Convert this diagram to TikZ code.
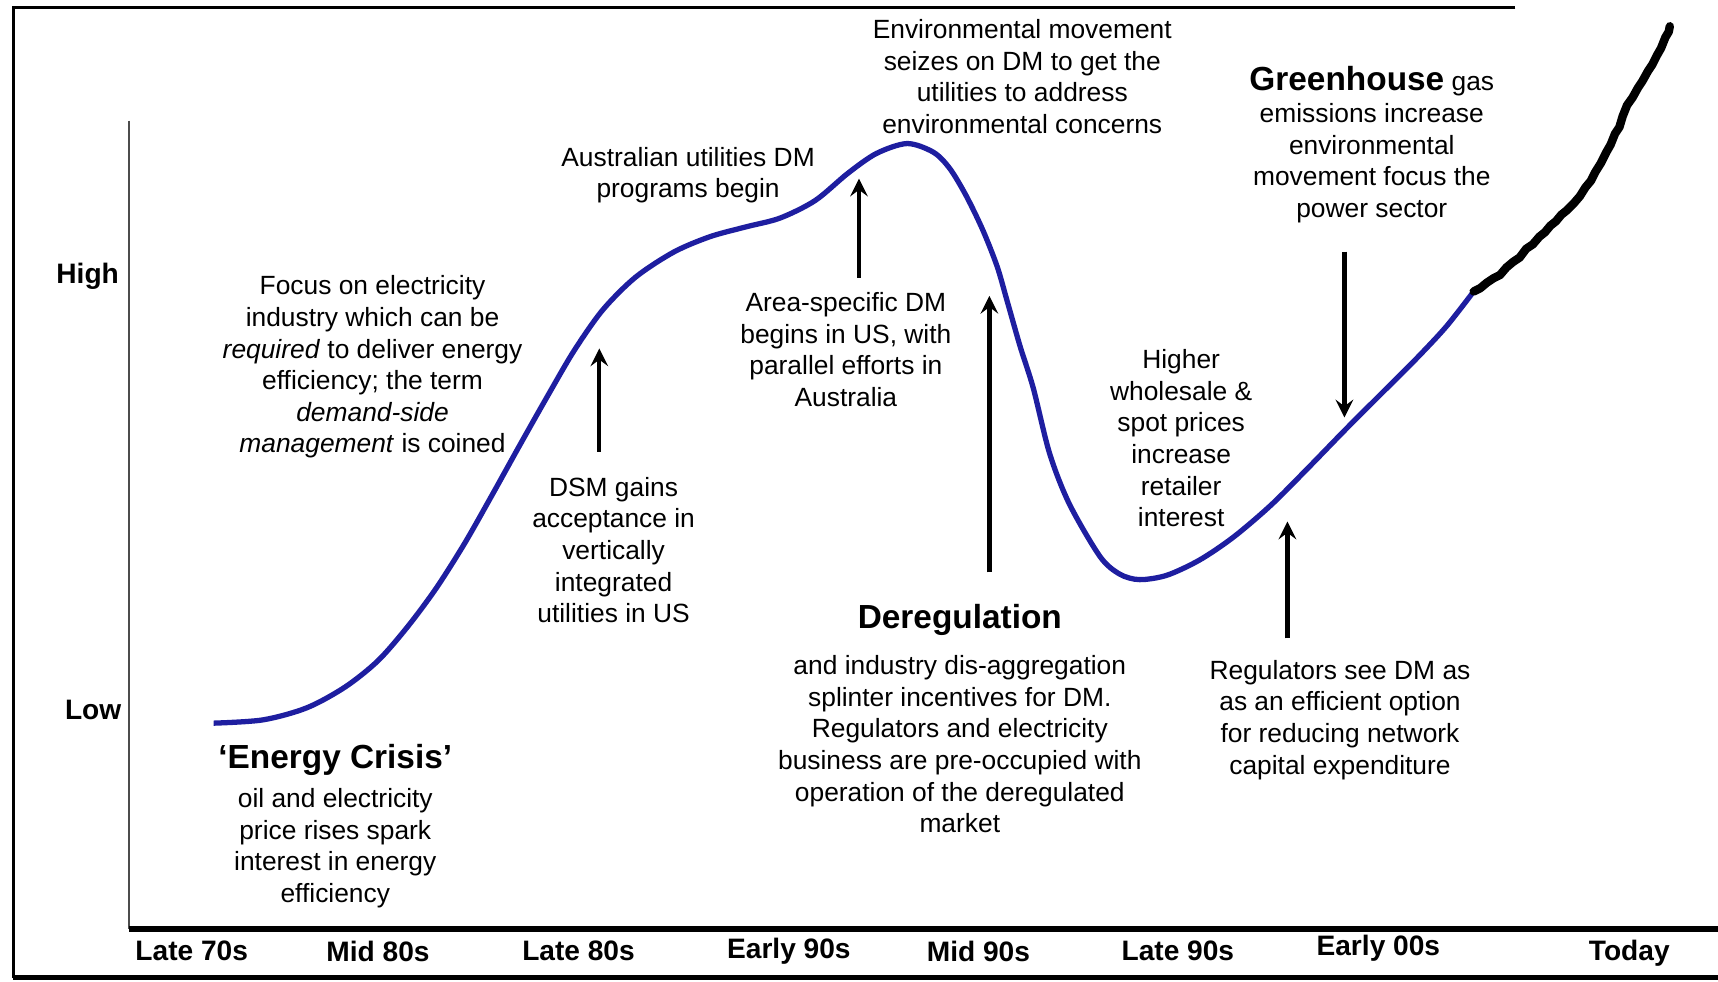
\documentclass[tikz,border=0pt]{standalone}
\usepackage{fontspec}
\setmainfont{Liberation Sans}
\usepackage{tikz}
\definecolor{curveblue}{RGB}{30,30,160}
\tikzstyle{pointer} = [->,>=stealth,line width=1.2pt]
\tikzstyle{note} = [align=center,inner sep=0pt,font=\fontsize{7.5}{9}\selectfont]
\tikzstyle{period} = [inner sep=0pt,font=\fontsize{8}{9}\selectfont\bfseries]
\tikzstyle{sketch} = [line width=2.4pt, line join=round, line cap=round]

\begin{document}
\begin{tikzpicture}[x=0.10957mm,y=-0.10957mm]
        \useasboundingbox (0,0) rectangle (1568,896);
        % frame and axes
        \draw[line width=0.8pt] (1383,7) -- (12,7) -- (12,893);
        \draw[line width=1.6pt] (12,892) -- (1568,892);
        \draw[line width=0.5pt, black!70] (118,110) -- (118,848);
        \draw[line width=1.6pt] (118,848) -- (1568,848);

        \node[period] at (80,252) (high) {High};
        \node[period] at (85,648) (low) {Low};
        \node[period] at (175,868) (p1) {Late 70s};
        \node[period] at (345,868) (p2) {Mid 80s};
        \node[period] at (528,868) (p3) {Late 80s};
        \node[period] at (720,868) (p4) {Early 90s};
        \node[period] at (893,868) (p5) {Mid 90s};
        \node[period] at (1075,868) (p6) {Late 90s};
        \node[period] at (1258,865) (p7) {Early 00s};
        \node[period] at (1487,870) (p8) {Today};

        % the curve
        \draw[curveblue, line width=1.5pt] plot[smooth] coordinates {(195,660) (240,657) (280,646) (315,627) (345,603) (372,572) (398,537) (424,496) (449,452) (474,407) (500,361) (524,320) (550,283) (580,253) (615,230) (648,216) (681,207) (712,199) (744,183) (774,158) (800,140) (828,131) (852,139) (867,154) (882,179) (897,210) (910,243) (919,274) (931,316) (943,354) (958,414) (976,460) (1004,508) (1022,524) (1040,529) (1065,525) (1095,511) (1126,490) (1160,461) (1193,428) (1228,392) (1262,358) (1293,327) (1320,298) (1345,266)};
        % hand drawn part
        \draw[sketch] plot coordinates {(1345,266) (1351,263) (1357,258) (1363,254) (1369,251) (1375,244) (1381,239) (1387,235) (1393,227) (1399,223) (1405,216) (1410,212) (1415,206) (1420,202) (1425,196) (1430,192) (1436,186) (1442,179) (1447,171) (1452,165) (1456,157) (1461,149) (1466,139) (1470,132) (1474,122) (1478,116) (1481,106) (1485,96) (1490,89) (1495,80) (1499,74) (1504,65) (1508,59) (1512,51) (1516,44) (1520,34) (1523,29) (1524,24)};

        % notes
        \node[note] at (340,335) (focus) {Focus on electricity\\industry which can be\\\textit{required} to deliver energy\\efficiency; the term\\\textit{demand-side}\\\textit{management} is coined};
        \node[note] at (628,160) (ausdm) {Australian utilities DM\\programs begin};
        \node[note] at (933,70) (envmove) {Environmental movement\\seizes on DM to get the\\utilities to address\\environmental concerns};
        \node[note] at (1252,132) (green) {{\fontsize{9.5}{9}\selectfont\bfseries Greenhouse} gas\\emissions increase\\environmental\\movement focus the\\power sector};
        \node[note] at (772,319) (areadm) {Area-specific DM\\begins in US, with\\parallel efforts in\\Australia};
        \node[note] at (560,502) (dsm) {DSM gains\\acceptance in\\vertically\\integrated\\utilities in US};
        \node[note] at (1078,400) (higher) {Higher\\wholesale \&\\spot prices\\increase\\retailer\\interest};
        \node[note] at (876,656) (dereg) {{\fontsize{9.5}{9}\selectfont\bfseries Deregulation}\\[4pt]and industry dis-aggregation\\splinter incentives for DM.\\Regulators and electricity\\business are pre-occupied with\\operation of the deregulated\\market};
        \node[note] at (1223,657) (regs) {Regulators see DM as\\as an efficient option\\for reducing network\\capital expenditure};
        \node[note] at (306,754) (crisis) {{\fontsize{9.5}{9}\selectfont\bfseries `Energy Crisis'}\\[2pt]oil and electricity\\price rises spark\\interest in energy\\efficiency};

        % arrows to the curve
        \coordinate (dsmtip) at (547,318);
        \coordinate (areatip) at (784,163);
        \coordinate (deregtip) at (903,270);
        \coordinate (greentip) at (1227,381);
        \coordinate (regstip) at (1175,476);
        \draw[pointer] ([yshift=7pt]dsm.north -| dsmtip) -- (dsmtip);
        \draw[pointer] ([yshift=4pt]areadm.north -| areatip) -- (areatip);
        \draw[pointer] ([yshift=9pt]dereg.north -| deregtip) -- (deregtip);
        \draw[pointer] ([yshift=-8pt]green.south -| greentip) -- (greentip);
        \draw[pointer] ([yshift=6pt]regs.north -| regstip) -- (regstip);

    \end{tikzpicture}
\end{document}
